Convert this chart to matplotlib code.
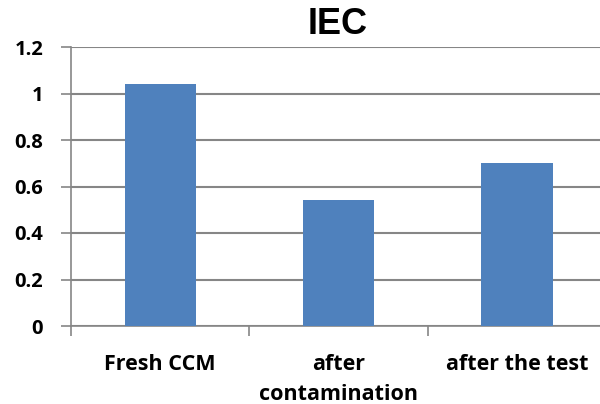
import matplotlib
matplotlib.use('Agg')
import matplotlib.pyplot as plt

categories = ['Fresh CCM', 'after\ncontamination', 'after the test']
values = [1.04, 0.54, 0.70]
y_ticks = [0, 0.2, 0.4, 0.6, 0.8, 1.0, 1.2]
y_labels = ['0', '0.2', '0.4', '0.6', '0.8', '1', '1.2']

plt.rcParams['font.family'] = ['Open Sans', 'DejaVu Sans']

fig = plt.figure(figsize=(6, 4.04), dpi=100)
# axes run a little past the right edge, like the original
ax = fig.add_axes([71/600, 78/404, 535/600, 279/404])

x = range(len(categories))
ax.bar(x, values, width=0.4, color='#4F81BD', zorder=3)

ax.set_xlim(-0.5, 2.5)
ax.set_ylim(0, 1.2)
ax.set_yticks(y_ticks)
ax.set_yticklabels(y_labels, fontsize=14.5, fontweight='bold')
ax.set_xticks(x)
ax.set_xticklabels(categories, fontsize=15.5, fontweight='bold', linespacing=1.55)
ax.tick_params(axis='x', length=0, pad=20)
ax.set_xticks([-0.5, 0.5, 1.5, 2.5], minor=True)
ax.tick_params(axis='x', which='minor', length=7, width=1.2, color='#868686', direction='out')
ax.tick_params(axis='y', length=7, width=1.2, color='#868686', pad=13)

ax.grid(axis='y', color='#868686', linewidth=1.5, zorder=0)
for s in ['top', 'right']:
    ax.spines[s].set_visible(False)
for s in ['left', 'bottom']:
    ax.spines[s].set_color('#868686')
    ax.spines[s].set_linewidth(1.2)

fig.text(338/600, 1 - 25/404, 'IEC', fontsize=26, fontweight='bold',
         family='Liberation Sans', ha='center', va='center')

fig.savefig('out.png', dpi=100)
plt.close(fig)
